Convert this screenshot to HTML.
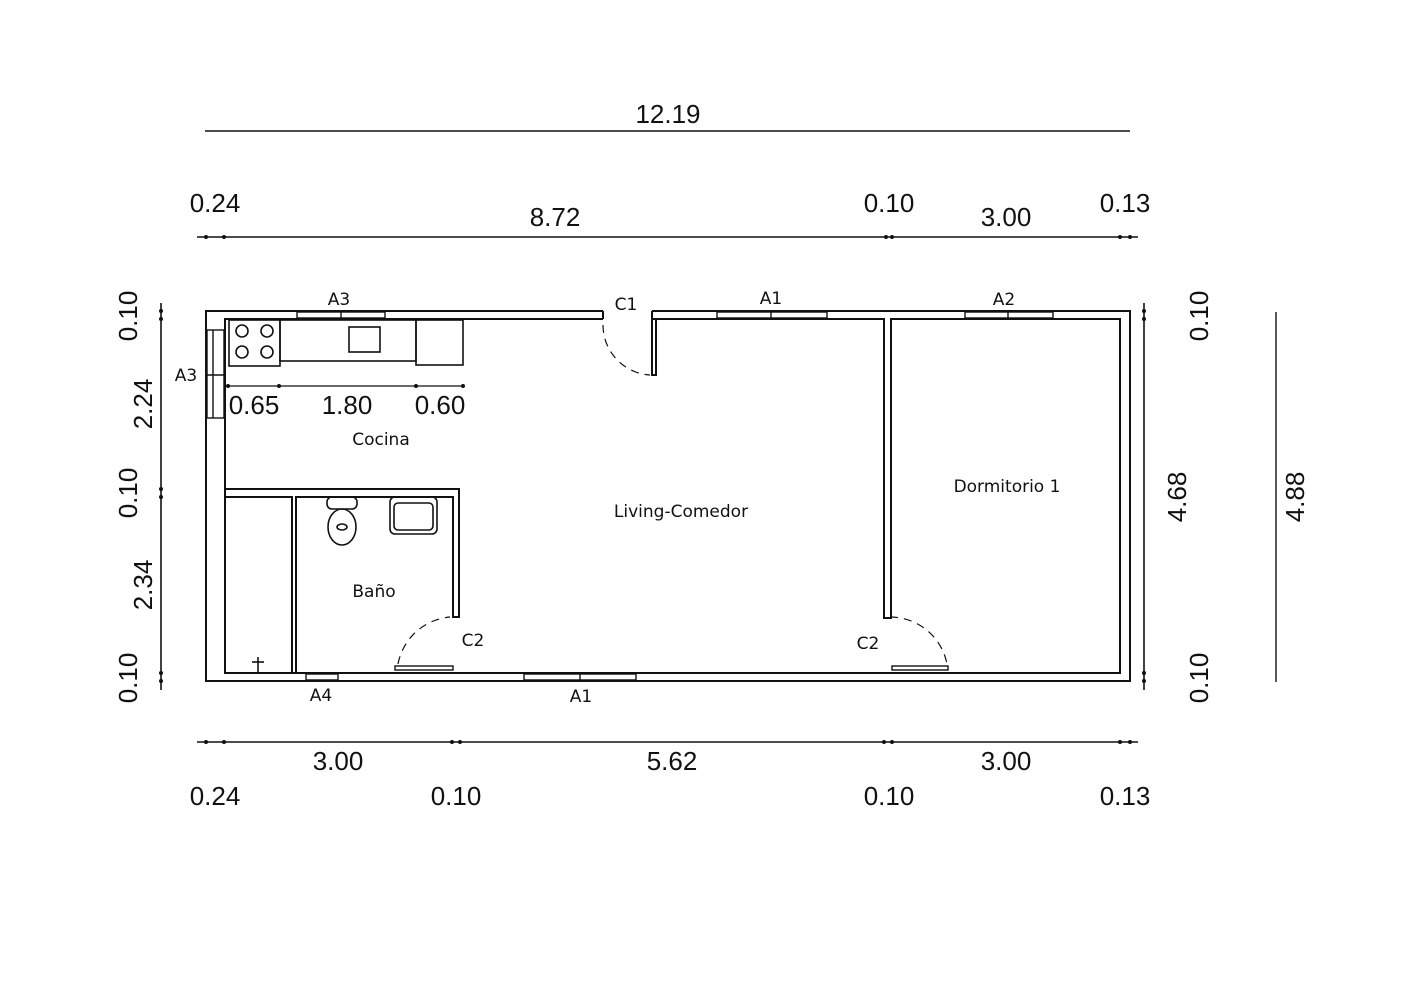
<!DOCTYPE html>
<html><head><meta charset="utf-8"><style>
html,body{margin:0;padding:0;background:#fff}
svg{display:block}
text{font-family:"Liberation Sans",sans-serif;fill:#111}
.b{font-size:26px}
.s{font-family:"DejaVu Sans",sans-serif;font-size:17px}
</style></head><body>
<svg width="1428" height="1001" viewBox="0 0 1428 1001" xmlns="http://www.w3.org/2000/svg">
<g stroke="#111" fill="none" stroke-width="2">
<!-- dimension lines -->
<line x1="205" y1="131" x2="1130" y2="131" stroke-width="1.6"/>
<line x1="197" y1="237" x2="1138" y2="237" stroke-width="1.6"/>
<line x1="197" y1="742" x2="1138" y2="742" stroke-width="1.6"/>
<line x1="161" y1="303" x2="161" y2="690" stroke-width="1.6"/>
<line x1="1144" y1="303" x2="1144" y2="690" stroke-width="1.6"/>
<line x1="1276" y1="312" x2="1276" y2="682" stroke-width="1.4"/>
</g>
<g fill="#111">
<circle cx="206" cy="237" r="2"/><circle cx="224" cy="237" r="2"/><circle cx="886" cy="237" r="2"/><circle cx="892" cy="237" r="2"/><circle cx="1120" cy="237" r="2"/><circle cx="1130" cy="237" r="2"/>
<circle cx="206" cy="742" r="2"/><circle cx="224" cy="742" r="2"/><circle cx="452" cy="742" r="2"/><circle cx="460" cy="742" r="2"/><circle cx="884" cy="742" r="2"/><circle cx="892" cy="742" r="2"/><circle cx="1120" cy="742" r="2"/><circle cx="1130" cy="742" r="2"/>
<circle cx="161" cy="311" r="2"/><circle cx="161" cy="319" r="2"/><circle cx="161" cy="489" r="2"/><circle cx="161" cy="497" r="2"/><circle cx="161" cy="673" r="2"/><circle cx="161" cy="681" r="2"/>
<circle cx="1144" cy="311" r="2"/><circle cx="1144" cy="319" r="2"/><circle cx="1144" cy="673" r="2"/><circle cx="1144" cy="681" r="2"/>
<circle cx="228" cy="386" r="2"/><circle cx="279" cy="386" r="2"/><circle cx="416" cy="386" r="2"/><circle cx="463" cy="386" r="2"/>
</g>
<line x1="228" y1="386" x2="463" y2="386" stroke="#111" stroke-width="1.2"/>

<g stroke="#111" fill="none" stroke-width="2">
<!-- outer walls -->
<path d="M603 311 H206 V681 H1130 V311 H652"/>
<path d="M603 319 H225 V673 H1120 V319 H891 V618 H884 V319 H656"/>
<line x1="603" y1="311" x2="603" y2="319"/>
<line x1="652" y1="311" x2="652" y2="319"/>
<!-- C1 door -->
<rect x="652" y="319" width="4" height="56"/>
<path d="M603 325 A50 50 0 0 0 650 375" stroke-dasharray="8 6" stroke-width="1.2"/>
<!-- kitchen/bath wall -->
<path d="M225 489 H459 V617 H453 V497 H296 V673"/>
<path d="M225 497 H292 V673"/>
<!-- bath door C2 -->
<rect x="395" y="666" width="58" height="4" stroke-width="1.4"/>
<path d="M398 664 A58 58 0 0 1 450 617" stroke-dasharray="8 6" stroke-width="1.2"/>
<!-- dorm door C2 -->
<rect x="892" y="666" width="56" height="4" stroke-width="1.4"/>
<path d="M890 617 A58 58 0 0 1 947 664" stroke-dasharray="8 6" stroke-width="1.2"/>
<!-- windows -->
<g stroke-width="1.4">
<rect x="297" y="312" width="88" height="6"/><line x1="341" y1="312" x2="341" y2="318"/>
<rect x="717" y="312" width="110" height="6"/><line x1="771" y1="312" x2="771" y2="318"/>
<rect x="965" y="312" width="88" height="6"/><line x1="1008" y1="312" x2="1008" y2="318"/>
<rect x="524" y="674" width="112" height="6"/><line x1="580" y1="674" x2="580" y2="680"/>
<rect x="306" y="674" width="32" height="6"/>
<rect x="207" y="330" width="17" height="88"/><line x1="213" y1="330" x2="213" y2="418"/><line x1="207" y1="375" x2="224" y2="375"/>
</g>
<!-- kitchen counters -->
<g stroke-width="1.6">
<rect x="229" y="320" width="51" height="46"/>
<rect x="280" y="320" width="136" height="41"/>
<rect x="416" y="320" width="47" height="45"/>
<rect x="349" y="327" width="31" height="25"/>
<circle cx="242" cy="331" r="6"/><circle cx="267" cy="331" r="6"/><circle cx="242" cy="352" r="6"/><circle cx="267" cy="352" r="6"/>
<!-- toilet -->
<rect x="327" y="497" width="30" height="12" rx="5"/>
<ellipse cx="342" cy="527" rx="14" ry="18"/>
<ellipse cx="342" cy="527" rx="5" ry="3"/>
<!-- sink -->
<rect x="390" y="497" width="47" height="37" rx="5"/>
<rect x="394" y="503" width="39" height="27" rx="4"/>
<!-- closet fixture -->
<line x1="258" y1="657" x2="258" y2="673"/><line x1="252" y1="662" x2="264" y2="662"/>
</g>
</g>

<!-- labels -->
<text class="b" x="668" y="123" text-anchor="middle">12.19</text>
<text class="b" x="215" y="212" text-anchor="middle">0.24</text>
<text class="b" x="555" y="226" text-anchor="middle">8.72</text>
<text class="b" x="889" y="212" text-anchor="middle">0.10</text>
<text class="b" x="1006" y="226" text-anchor="middle">3.00</text>
<text class="b" x="1125" y="212" text-anchor="middle">0.13</text>
<text class="b" x="338" y="770" text-anchor="middle">3.00</text>
<text class="b" x="672" y="770" text-anchor="middle">5.62</text>
<text class="b" x="1006" y="770" text-anchor="middle">3.00</text>
<text class="b" x="215" y="805" text-anchor="middle">0.24</text>
<text class="b" x="456" y="805" text-anchor="middle">0.10</text>
<text class="b" x="889" y="805" text-anchor="middle">0.10</text>
<text class="b" x="1125" y="805" text-anchor="middle">0.13</text>
<text class="b" x="254" y="414" text-anchor="middle">0.65</text>
<text class="b" x="347" y="414" text-anchor="middle">1.80</text>
<text class="b" x="440" y="414" text-anchor="middle">0.60</text>
<g class="b" text-anchor="middle">
<text class="b" transform="translate(137,316) rotate(-90)">0.10</text>
<text class="b" transform="translate(152,404) rotate(-90)">2.24</text>
<text class="b" transform="translate(137,493) rotate(-90)">0.10</text>
<text class="b" transform="translate(152,585) rotate(-90)">2.34</text>
<text class="b" transform="translate(137,678) rotate(-90)">0.10</text>
<text class="b" transform="translate(1208,316) rotate(-90)">0.10</text>
<text class="b" transform="translate(1186,497) rotate(-90)">4.68</text>
<text class="b" transform="translate(1208,678) rotate(-90)">0.10</text>
<text class="b" transform="translate(1304,497) rotate(-90)">4.88</text>
</g>
<text class="s" x="339" y="305" text-anchor="middle">A3</text>
<text class="s" x="626" y="310" text-anchor="middle">C1</text>
<text class="s" x="771" y="304" text-anchor="middle">A1</text>
<text class="s" x="1004" y="305" text-anchor="middle">A2</text>
<text class="s" x="186" y="381" text-anchor="middle">A3</text>
<text class="s" x="381" y="445" text-anchor="middle">Cocina</text>
<text class="s" x="681" y="517" text-anchor="middle">Living-Comedor</text>
<text class="s" x="1007" y="492" text-anchor="middle">Dormitorio 1</text>
<text class="s" x="374" y="597" text-anchor="middle">Baño</text>
<text class="s" x="473" y="646" text-anchor="middle">C2</text>
<text class="s" x="868" y="649" text-anchor="middle">C2</text>
<text class="s" x="321" y="701" text-anchor="middle">A4</text>
<text class="s" x="581" y="702" text-anchor="middle">A1</text>
</svg>
</body></html>
